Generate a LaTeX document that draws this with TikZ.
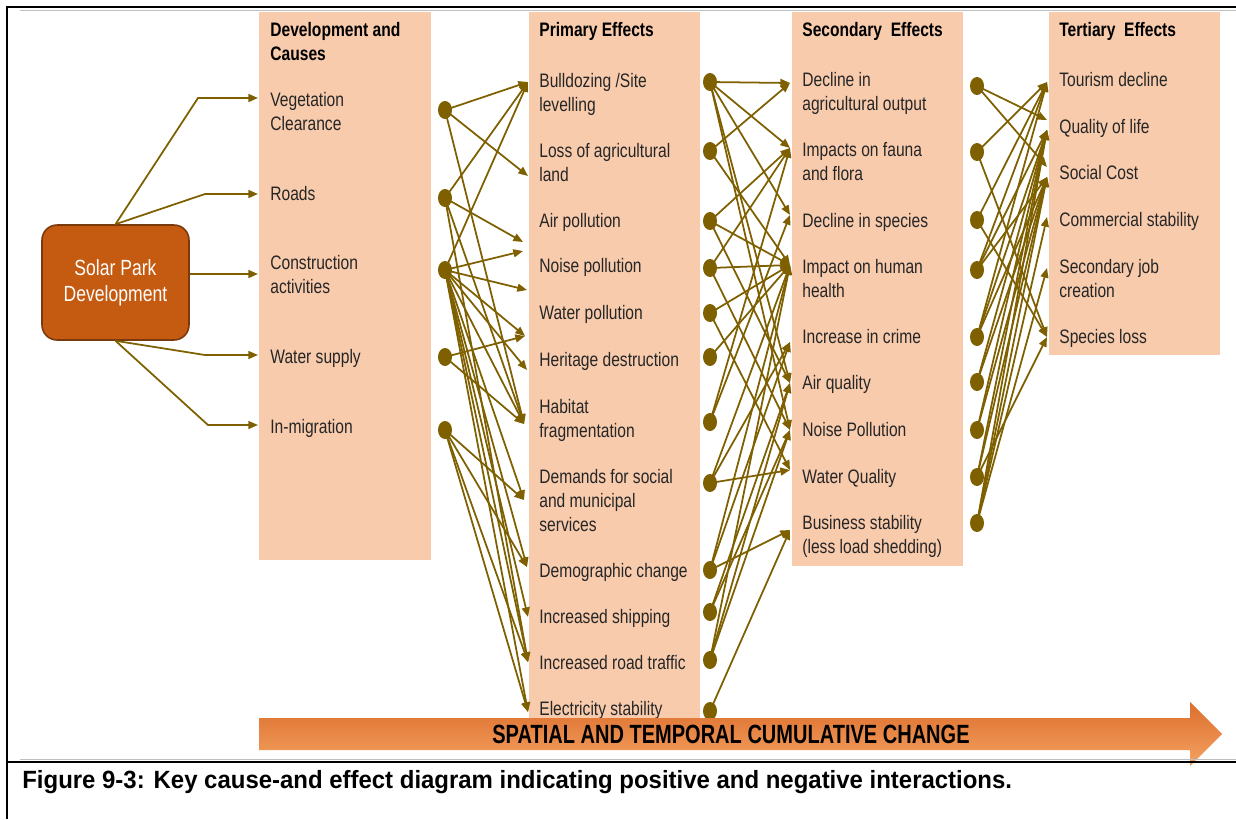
\documentclass[tikz,border=0pt]{standalone}
\usepackage{fontspec}
\setmainfont{Liberation Sans}[FakeStretch=0.8]
\newfontfamily\capfont{Liberation Sans}[FakeStretch=0.96]
\newfontfamily\barfont{Liberation Sans}[FakeStretch=0.76]
\usetikzlibrary{arrows.meta,shapes.geometric}

\definecolor{peach}{HTML}{F8CBAD}
\definecolor{linkcol}{HTML}{7F6000}
\definecolor{solarfill}{HTML}{C55A11}
\definecolor{solarline}{HTML}{7A3A0E}
\definecolor{barlight}{HTML}{F4A262}
\definecolor{bardark}{HTML}{DC6E2C}

\tikzset{
  column/.style={fill=peach, draw=none},
  item/.style={anchor=north west, inner sep=0pt, align=left,
               font=\fontsize{11.1}{13.6}\selectfont, text=black!85},
  head/.style={item, font=\fontsize{11.1}{13.6}\selectfont\bfseries, text=black},
  dot/.style={ellipse, fill=linkcol, draw=none, inner sep=0pt,
              minimum width=0.28cm, minimum height=0.36cm},
  link/.style={draw=linkcol, line width=1pt,
               -{Triangle[length=5.5pt,width=4.5pt]}},
  frame/.style={draw=black, line width=1.1pt},
  rule/.style={draw=black!25, line width=0.5pt}
}

\begin{document}
\begin{tikzpicture}[x=0.02cm,y=-0.02cm]
\useasboundingbox (0,0) rectangle (1236,819);

% ---- column backgrounds ----
\path[column] (259,12) rectangle (431,560);
\path[column] (529,12) rectangle (700,725);
\path[column] (792,12) rectangle (963,566);
\path[column] (1049,12) rectangle (1220,355);

% ---- column headings ----
\node[head] (hcause) at (270,22) {Development and\\Causes};
\node[head] (hprim)  at (539,22) {Primary Effects};
\node[head] (hsec)   at (802,22) {Secondary~ Effects};
\node[head] (hter)   at (1059,22) {Tertiary~ Effects};

% ---- causes ----
\node[item] (veg)   at (270,92)  {Vegetation\\Clearance};
\node[item] (roads) at (270,186) {Roads};
\node[item] (cons)  at (270,255) {Construction\\activities};
\node[item] (water) at (270,349) {Water supply};
\node[item] (migr)  at (270,419) {In-migration};

% ---- primary effects ----
\node[item] (e1)  at (539,73)  {Bulldozing /Site\\levelling};
\node[item] (e2)  at (539,143) {Loss of agricultural\\land};
\node[item] (e3)  at (539,213) {Air pollution};
\node[item] (e4)  at (539,258) {Noise pollution};
\node[item] (e5)  at (539,305) {Water pollution};
\node[item] (e6)  at (539,352) {Heritage destruction};
\node[item] (e7)  at (539,399) {Habitat\\fragmentation};
\node[item] (e8)  at (539,469) {Demands for social\\and municipal\\services};
\node[item] (e9)  at (539,563) {Demographic change};
\node[item] (e10) at (539,609) {Increased shipping};
\node[item] (e11) at (539,655) {Increased road traffic};
\node[item] (e12) at (539,701) {Electricity stability};

% ---- secondary effects ----
\node[item] (f1) at (802,72)  {Decline in\\agricultural output};
\node[item] (f2) at (802,142) {Impacts on fauna\\and flora};
\node[item] (f3) at (802,213) {Decline in species};
\node[item] (f4) at (802,259) {Impact on human\\health};
\node[item] (f5) at (802,329) {Increase in crime};
\node[item] (f6) at (802,375) {Air quality};
\node[item] (f7) at (802,422) {Noise Pollution};
\node[item] (f8) at (802,469) {Water Quality};
\node[item] (f9) at (802,515) {Business stability\\(less load shedding)};

% ---- tertiary effects ----
\node[item] (g1) at (1059,72)  {Tourism decline};
\node[item] (g2) at (1059,119) {Quality of life};
\node[item] (g3) at (1059,165) {Social Cost};
\node[item] (g4) at (1059,212) {Commercial stability};
\node[item] (g5) at (1059,259) {Secondary job\\creation};
\node[item] (g6) at (1059,329) {Species loss};

% ---- source box ----
\node[draw=solarline, fill=solarfill, line width=0.9pt, rounded corners=0.3cm,
      minimum width=2.94cm, minimum height=2.3cm, align=center, text=white,
      font=\fontsize{12.5}{14.7}\selectfont] (solar) at (115.5,282.5)
      {Solar Park\\Development};

% bends and arrow ends of the source links
\coordinate (bv) at (198,98);  \coordinate (av) at (258,98);
\coordinate (br) at (205,194); \coordinate (ar) at (258,194);
\coordinate (ac) at (258,274);
\coordinate (bw) at (205,355); \coordinate (aw) at (258,355);
\coordinate (bm) at (208,425); \coordinate (am) at (258,425);

\draw[link] (solar.north) -- (bv) -- (av);
\draw[link] (solar.north) -- (br) -- (ar);
\draw[link] (solar.east |- ac) -- (ac);
\draw[link] (solar.south) -- (bw) -- (aw);
\draw[link] (solar.south) -- (bm) -- (am);

% ---- arrow ends on the primary column ----
\coordinate (q1)  at (528,82);
\coordinate (q2)  at (528,176);
\coordinate (q3)  at (523,242);
\coordinate (q4)  at (523,251);
\coordinate (q5)  at (527,290);
\coordinate (q6)  at (525,336);
\coordinate (q7)  at (527,370);
\coordinate (q8)  at (524,424);
\coordinate (q9)  at (524,500);
\coordinate (q10) at (527,567);
\coordinate (q11) at (528,617);
\coordinate (q12) at (528,662);
\coordinate (q13) at (528,712);

% ---- arrow ends on the secondary column ----
\coordinate (r1) at (790,83);
\coordinate (r2) at (790,148);
\coordinate (r3) at (790,215);
\coordinate (r4) at (790,265);
\coordinate (r5) at (790,342);
\coordinate (r6) at (790,383);
\coordinate (r7) at (790,430);
\coordinate (r8) at (790,470);
\coordinate (r9) at (790,530);

% ---- arrow ends on the tertiary column ----
\coordinate (u1) at (1047,82);
\coordinate (u2) at (1047,120);
\coordinate (u3) at (1047,130);
\coordinate (u4) at (1047,167);
\coordinate (u5) at (1047,177);
\coordinate (u6) at (1047,217);
\coordinate (u7) at (1047,268);
\coordinate (u8) at (1047,337);

% ---- dots ----
\foreach \n/\y in {c1/110,c2/198,c3/270,c4/357,c5/430}
  \node[dot] (\n) at (445,\y) {};
\foreach \n/\y in {p1/82,p2/151,p3/221,p4/268,p5/313,p6/357,p7/422,
                   p8/483,p9/570,p10/612,p11/660,p12/711}
  \node[dot] (\n) at (710,\y) {};
\foreach \n/\y in {s1/86,s2/152,s3/220,s4/270,s5/337,s6/382,s7/430,
                   s8/477,s9/523}
  \node[dot] (\n) at (977,\y) {};

% ---- causes to primary effects ----
\foreach \a/\b in {c1/q1,c1/q2,c1/q8,
                   c2/q1,c2/q3,c2/q8,c2/q12,
                   c3/q1,c3/q4,c3/q5,c3/q6,c3/q7,c3/q8,c3/q9,c3/q10,
                   c3/q11,c3/q12,c3/q13,
                   c4/q6,c4/q8,
                   c5/q9,c5/q10,c5/q12,c5/q13}
  \draw[link] (\a.center) -- (\b);

% ---- primary to secondary effects ----
\foreach \a/\b in {p1/r1,p1/r2,p1/r3,p1/r6,p1/r7,
                   p2/r1,p2/r4,
                   p3/r2,p3/r4,p3/r6,
                   p4/r2,p4/r4,p4/r7,
                   p5/r4,p5/r8,
                   p6/r4,
                   p7/r2,p7/r3,
                   p8/r4,p8/r5,p8/r8,
                   p9/r4,p9/r5,p9/r9,
                   p10/r6,p10/r7,
                   p11/r4,p11/r6,p11/r7,
                   p12/r9}
  \draw[link] (\a.center) -- (\b);

% ---- secondary to tertiary effects ----
\foreach \a/\b in {s1/u2,s1/u4,
                   s2/u1,s2/u8,
                   s3/u1,s3/u8,
                   s4/u1,s4/u3,s4/u5,
                   s5/u1,s5/u3,s5/u5,
                   s6/u3,s6/u5,
                   s7/u3,s7/u5,
                   s8/u3,s8/u5,s8/u8,
                   s9/u3,s9/u5,s9/u6,s9/u7}
  \draw[link] (\a.center) -- (\b);

% ---- cumulative change arrow (light edge on top, darker below) ----
\path[top color=bardark, bottom color=barlight]
  (259,718) -- (1190,718) -- (1190,702) -- (1222,734) -- (1190,766)
  -- (1190,750) -- (259,750) -- cycle;
\node[inner sep=0pt, font=\barfont\fontsize{15}{17}\selectfont\bfseries]
  (change) at (731,734) {SPATIAL AND TEMPORAL CUMULATIVE CHANGE};

% ---- frame and caption ----
\draw[rule] (20,10) -- (1236,10);
\draw[rule] (20,759) -- (1236,759);
\draw[frame] (7,819) -- (7,7) -- (1236,7);
\draw[frame] (7,762) -- (1236,762);
\node[anchor=west, inner sep=0pt,
      font=\capfont\fontsize{14.2}{16}\selectfont\bfseries] (caption) at (22,782)
  {Figure 9-3: Key cause-and effect diagram indicating positive and negative interactions.};
\end{tikzpicture}
\end{document}
